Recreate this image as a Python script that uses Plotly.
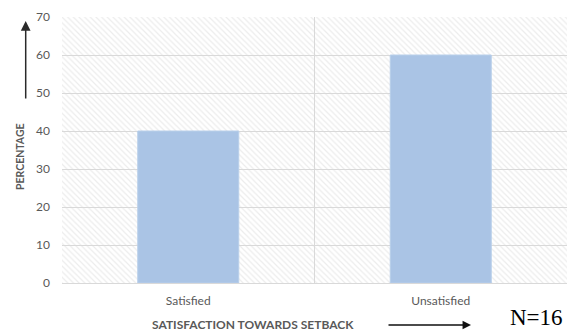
import plotly.graph_objects as go

# Survey result: satisfaction towards setback (N=16)
categories = ["Satisfied", "Unsatisfied"]
percentages = [40, 60]
y_ticks = [0, 10, 20, 30, 40, 50, 60, 70]
sample_label = "N=16"

W, H = 571, 334
ML, MR, MT, MB = 62, 4, 17, 51
PW, PH = W - ML - MR, H - MT - MB

positions = list(range(len(categories)))
x_lo, x_hi = -0.5, len(categories) - 0.5
y_max = y_ticks[-1]

label_grey = "#595959"
grid_grey = "#D9D9D9"


def px_x(px):
    return (px - ML) / PW


def px_y(py):
    return (H - MB - py) / PH


fig = go.Figure()

# Hatched plot-area background (transparent gaps let gridlines through)
fig.add_trace(go.Bar(
    x=[(x_lo + x_hi) / 2], y=[y_max], width=[x_hi - x_lo],
    marker=dict(color="rgba(0,0,0,0)", line=dict(width=0),
                pattern=dict(shape="\\", size=4, solidity=0.3,
                             fgcolor="#DADADA", bgcolor="rgba(0,0,0,0)")),
    hoverinfo="skip", showlegend=False,
))

fig.add_trace(go.Bar(
    x=positions, y=percentages, width=0.4,
    marker=dict(color="#AAC4E5", line=dict(color="#B8CFEA", width=1)),
    showlegend=False,
))

fig.update_layout(
    width=W, height=H,
    margin=dict(l=ML, r=MR, t=MT, b=MB),
    paper_bgcolor="white", plot_bgcolor="white",
    barmode="overlay",
    font=dict(family="Lato, Open Sans, sans-serif", color=label_grey),
)

fig.update_xaxes(
    range=[x_lo, x_hi], tickvals=positions, ticktext=categories,
    showgrid=False, zeroline=False, showline=False, ticks="",
    tickfont=dict(size=12, color=label_grey), ticklabelstandoff=9,
    minor=dict(tickmode="array",
               tickvals=[x_lo, 0.5, x_hi],
               showgrid=True, gridcolor=grid_grey, gridwidth=1, ticks=""),
)

fig.update_yaxes(
    range=[0, y_max], tickvals=y_ticks,
    showgrid=True, gridcolor=grid_grey, gridwidth=1,
    zeroline=True, zerolinecolor=grid_grey, zerolinewidth=1,
    showline=False, ticks="",
    tickfont=dict(size=12, color=label_grey), ticklabelstandoff=11,
)

# Axis titles
fig.add_annotation(
    text="<b>PERCENTAGE</b>", xref="paper", yref="paper",
    x=px_x(20), y=px_y(157), xanchor="center", yanchor="middle",
    textangle=-90, showarrow=False,
    font=dict(size=10.5, color=label_grey),
)
fig.add_annotation(
    text="<b>SATISFACTION TOWARDS SETBACK</b>", xref="paper", yref="paper",
    x=px_x(253), y=px_y(324), xanchor="center", yanchor="middle",
    showarrow=False,
    font=dict(size=12, color=label_grey),
)

# Direction arrows
fig.add_annotation(
    text="", xref="paper", yref="paper",
    x=px_x(25.7), y=px_y(21), ax=0, ay=79,
    showarrow=True, arrowhead=2, arrowsize=1.3, arrowwidth=1.5,
    arrowcolor="#2a2a2a",
)
fig.add_annotation(
    text="", xref="paper", yref="paper",
    x=px_x(471), y=px_y(325), ax=-84, ay=0,
    showarrow=True, arrowhead=2, arrowsize=1.3, arrowwidth=1.3,
    arrowcolor="#111111",
)

# Sample size
fig.add_annotation(
    text=sample_label, xref="paper", yref="paper",
    x=px_x(536), y=px_y(317), xanchor="center", yanchor="middle",
    showarrow=False,
    font=dict(family="Liberation Serif, Times New Roman, serif",
              size=23, color="black"),
)

fig.write_html("out.html")
